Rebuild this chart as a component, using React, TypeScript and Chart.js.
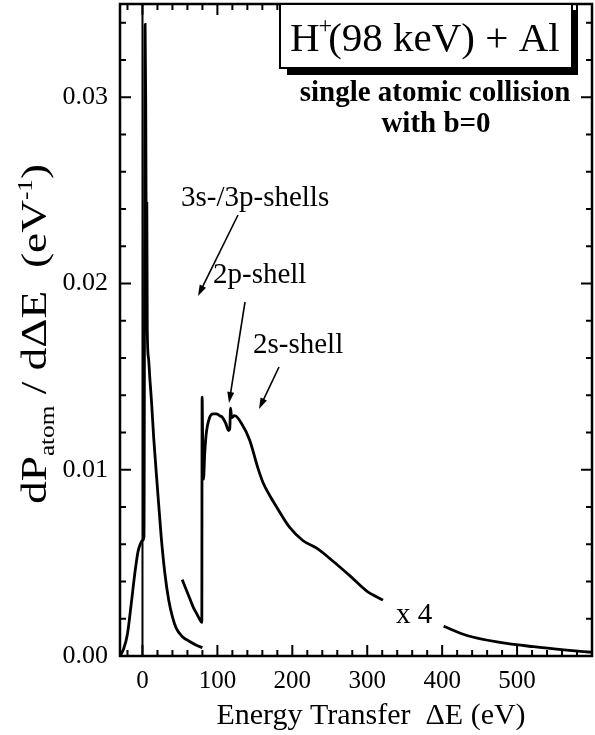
import React, { useEffect, useRef } from "react";
import { Chart, registerables } from "chart.js";

Chart.register(...registerables);

// ---- data ----
const mainE = [-30, -25, -20, -15, -10, -6, -3, 0, 2, 3.5, 4.3, 4.8, 5.3, 5.8, 6.4, 8, 10, 12, 15, 20, 25, 30, 35, 40, 45, 53, 63, 72, 80];
const mainP = [0, 0.0004, 0.0012, 0.0028, 0.0045, 0.0056, 0.006, 0.0062, 0.0064, 0.0339, 0.03, 0.0243, 0.0184, 0.0243, 0.0175, 0.016, 0.0148, 0.0137, 0.0117, 0.009, 0.0064, 0.0044, 0.003, 0.0021, 0.0015, 0.00105, 0.00078, 0.00058, 0.00045];

const x4E = [53, 58, 63, 68, 72, 76, 79.2, 79.6, 80.5, 81.5, 83, 85, 89.6, 94, 98.5, 103, 107, 111, 115, 116.5, 117.6, 119, 123, 132, 143, 154, 161, 170, 179, 196.5, 214, 232, 254, 277, 299, 321, 360, 402, 433, 477, 522, 566, 600];
const x4P = [0.0041, 0.0036, 0.0031, 0.0026, 0.0023, 0.002, 0.0018, 0.0139, 0.011, 0.0095, 0.0108, 0.0119, 0.0128, 0.013, 0.013, 0.0129, 0.0128, 0.0125, 0.0121, 0.0122, 0.0133, 0.0128, 0.0129, 0.0125, 0.0116, 0.0101, 0.0093, 0.0086, 0.008, 0.0069, 0.0062, 0.0058, 0.0051, 0.0043, 0.0035, 0.003, null, 0.0016, 0.0011, 0.00073, 0.0005, 0.00032, 0.0002];

const zeroLineE = [0, 0];
const zeroLineP = [0, 0.035];

const xTickValues = [0, 100, 200, 300, 400, 500];
const xTickLabels = ["0", "100", "200", "300", "400", "500"];
const yTickValues = [0, 0.01, 0.02, 0.03];
const yTickLabels = ["0.00", "0.01", "0.02", "0.03"];
const xMinorValues = [-20, 0, 20, 40, 60, 80, 100, 120, 140, 160, 180, 200, 220, 240, 260, 280, 300, 320, 340, 360, 380, 400, 420, 440, 460, 480, 500, 520, 540, 560, 580];
const yMinorValues = [0.002, 0.004, 0.006, 0.008, 0.01, 0.012, 0.014, 0.016, 0.018, 0.02, 0.022, 0.024, 0.026, 0.028, 0.03, 0.032, 0.034];

const X_MIN = -30;
const X_MAX = 600;
const Y_MIN = 0;
const Y_MAX = 0.035;

const titleText = "(98 keV) + Al";
const subtitle1 = "single atomic collision";
const subtitle2 = "with b=0";
const xTitle = "Energy Transfer  \u0394E (eV)";
const annotations = ["3s-/3p-shells", "2p-shell", "2s-shell", "x 4"];

const SERIF = "'Liberation Serif', 'Times New Roman', serif";

function toPts(xs: number[], ys: (number | null)[]) {
  return xs.map((x, i) => ({ x, y: ys[i] }));
}

function arrow(ctx: CanvasRenderingContext2D, x1: number, y1: number, x2: number, y2: number) {
  const ang = Math.atan2(y2 - y1, x2 - x1);
  const len = 11;
  const wid = 3.5;
  ctx.save();
  ctx.strokeStyle = "#000";
  ctx.fillStyle = "#000";
  ctx.lineWidth = 1.6;
  ctx.beginPath();
  ctx.moveTo(x1, y1);
  ctx.lineTo(x2 - Math.cos(ang) * len * 0.8, y2 - Math.sin(ang) * len * 0.8);
  ctx.stroke();
  ctx.beginPath();
  ctx.moveTo(x2, y2);
  ctx.lineTo(x2 - Math.cos(ang) * len + Math.sin(ang) * wid, y2 - Math.sin(ang) * len - Math.cos(ang) * wid);
  ctx.lineTo(x2 - Math.cos(ang) * len - Math.sin(ang) * wid, y2 - Math.sin(ang) * len + Math.cos(ang) * wid);
  ctx.closePath();
  ctx.fill();
  ctx.restore();
}

type Part = { t: string; size: number; dy: number };

function richWidth(ctx: CanvasRenderingContext2D, parts: Part[]) {
  let w = 0;
  for (const p of parts) {
    ctx.font = `${p.size}px ${SERIF}`;
    w += ctx.measureText(p.t).width;
  }
  return w;
}

function drawRich(ctx: CanvasRenderingContext2D, parts: Part[], x: number, y: number) {
  let cx = x;
  for (const p of parts) {
    ctx.font = `${p.size}px ${SERIF}`;
    ctx.fillText(p.t, cx, y + p.dy);
    cx += ctx.measureText(p.t).width;
  }
}

const decorPlugin = {
  id: "decor",
  afterDraw(chart: any) {
    const ctx: CanvasRenderingContext2D = chart.ctx;
    const { left, right, top, bottom } = chart.chartArea;
    const xs = chart.scales.x;
    const ys = chart.scales.y;
    ctx.save();
    ctx.strokeStyle = "#000";
    ctx.fillStyle = "#000";

    // ticks
    ctx.lineWidth = 2;
    for (const v of xMinorValues) {
      const px = xs.getPixelForValue(v);
      const major = xTickValues.includes(v);
      const L = major ? 11 : 6;
      ctx.beginPath();
      ctx.moveTo(px, bottom);
      ctx.lineTo(px, bottom - L);
      ctx.moveTo(px, top);
      ctx.lineTo(px, top + L);
      ctx.stroke();
    }
    for (const v of yMinorValues) {
      const py = ys.getPixelForValue(v);
      const major = Math.abs(v * 100 - Math.round(v * 100)) < 1e-6;
      const L = major ? 11 : 6;
      ctx.beginPath();
      ctx.moveTo(left, py);
      ctx.lineTo(left + L, py);
      ctx.moveTo(right, py);
      ctx.lineTo(right - L, py);
      ctx.stroke();
    }
    // frame
    ctx.lineWidth = 2.5;
    ctx.strokeRect(left, top, right - left, bottom - top);

    // title box with shadow
    const bx = 280, by = top, bw = 292, bh = 64;
    ctx.fillRect(bx + 7, by + bh, bw - 1, 7);
    ctx.fillRect(bx + bw, by + 6, 6, bh + 1);
    ctx.fillStyle = "#fff";
    ctx.fillRect(bx, by, bw, bh);
    ctx.fillStyle = "#000";
    ctx.lineWidth = 2;
    ctx.strokeRect(bx, by, bw, bh);

    ctx.textBaseline = "alphabetic";
    ctx.textAlign = "left";
    ctx.font = `41px ${SERIF}`;
    ctx.fillText("H", 290, 51);
    const hW = ctx.measureText("H").width;
    ctx.font = `24px ${SERIF}`;
    ctx.fillText("+", 290 + hW - 1, 33);
    const pW = ctx.measureText("+").width;
    ctx.font = `41px ${SERIF}`;
    ctx.fillText(titleText, 290 + hW + pW - 5, 51);

    ctx.textAlign = "center";
    ctx.font = `bold 29px ${SERIF}`;
    ctx.fillText(subtitle1, 435, 101);
    ctx.fillText(subtitle2, 436, 132);

    // annotations
    ctx.textAlign = "left";
    ctx.font = `29px ${SERIF}`;
    ctx.fillText(annotations[0], 181, 206);
    ctx.fillText(annotations[1], 213, 283);
    ctx.fillText(annotations[2], 253, 353);
    ctx.textAlign = "center";
    ctx.fillText(annotations[3], 414, 623);

    arrow(ctx, 238, 215, 198, 296);
    arrow(ctx, 245, 302, 229, 403);
    arrow(ctx, 279, 367, 259, 409);

    // x title
    ctx.textAlign = "center";
    ctx.font = `30px ${SERIF}`;
    ctx.fillText(xTitle, 371, 724);

    // y title (rotated)
    const parts: Part[] = [
      { t: "dP", size: 36, dy: 0 },
      { t: "atom", size: 20, dy: 8 },
      { t: " / d\u0394E  (eV", size: 36, dy: 0 },
      { t: "-1", size: 20, dy: -14 },
      { t: ")", size: 36, dy: 0 },
    ];
    ctx.save();
    ctx.translate(46, 334);
    ctx.rotate(-Math.PI / 2);
    ctx.textAlign = "left";
    const w = richWidth(ctx, parts);
    const target = 340;
    ctx.scale(target / w, 1);
    drawRich(ctx, parts, -w / 2, 0);
    ctx.restore();

    ctx.restore();
  },
};

export default function App() {
  const ref = useRef<HTMLCanvasElement | null>(null);
  useEffect(() => {
    document.body.style.margin = "0";
    const canvas = ref.current!;
    const lineStyle = {
      borderColor: "#000",
      borderWidth: 2.8,
      pointRadius: 0,
      fill: false,
      cubicInterpolationMode: "monotone" as const,
      spanGaps: false,
    };
    const chart = new Chart(canvas, {
      type: "line",
      data: {
        datasets: [
          { ...lineStyle, data: toPts(mainE, mainP) as any },
          { ...lineStyle, data: toPts(x4E, x4P) as any },
          { ...lineStyle, borderWidth: 2, cubicInterpolationMode: "default" as const, tension: 0, data: toPts(zeroLineE, zeroLineP) as any },
        ],
      },
      options: {
        animation: false,
        responsive: false,
        devicePixelRatio: 1,
        layout: { padding: { top: 4, right: 3, left: 0, bottom: 0 } },
        plugins: { legend: { display: false }, tooltip: { enabled: false }, title: { display: false } },
        scales: {
          x: {
            type: "linear",
            min: X_MIN,
            max: X_MAX,
            grid: { display: false, drawTicks: false },
            border: { display: false },
            afterBuildTicks: (s: any) => {
              s.ticks = xTickValues.map((v) => ({ value: v }));
            },
            afterFit: (s: any) => {
              s.height = 79;
              s.paddingLeft = 0;
              s.paddingRight = 0;
            },
            ticks: {
              autoSkip: false,
              maxRotation: 0,
              padding: 10,
              color: "#000",
              font: { family: SERIF, size: 25 },
              callback: (v: any) => {
                const i = xTickValues.indexOf(Number(v));
                return i >= 0 ? xTickLabels[i] : "";
              },
            },
          },
          y: {
            type: "linear",
            min: Y_MIN,
            max: Y_MAX,
            grid: { display: false, drawTicks: false },
            border: { display: false },
            afterBuildTicks: (s: any) => {
              s.ticks = yTickValues.map((v) => ({ value: v }));
            },
            afterFit: (s: any) => {
              s.width = 120;
              s.paddingTop = 0;
              s.paddingBottom = 0;
            },
            ticks: {
              autoSkip: false,
              padding: 12,
              color: "#000",
              font: { family: SERIF, size: 26 },
              callback: (v: any) => {
                const i = yTickValues.indexOf(Number(v));
                return i >= 0 ? yTickLabels[i] : "";
              },
            },
          },
        },
      },
      plugins: [decorPlugin],
    });
    return () => chart.destroy();
  }, []);
  return (
    <div style={{ width: 595, height: 735, background: "#fff" }}>
      <canvas ref={ref} width={595} height={735} style={{ display: "block", width: 595, height: 735 }} />
    </div>
  );
}
